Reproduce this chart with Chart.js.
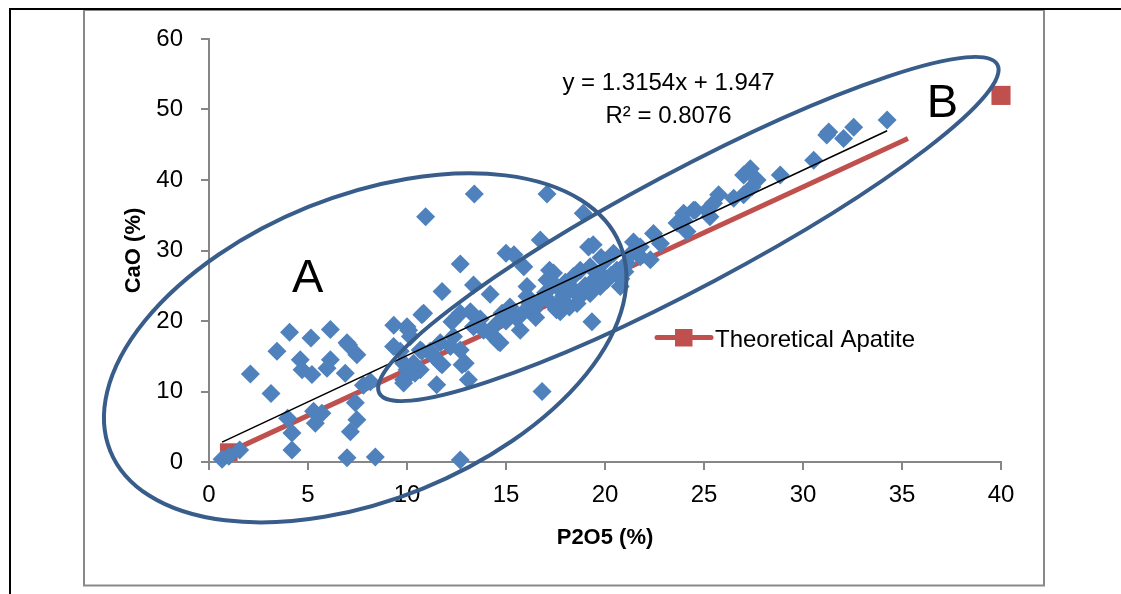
<!DOCTYPE html>
<html><head><meta charset="utf-8">
<script src="https://cdn.jsdelivr.net/npm/chart.js@4.4.1/dist/chart.umd.min.js"></script>
<style>html,body{margin:0;padding:0;background:#fff;overflow:hidden}#wrap{position:relative;width:1121px;height:594px}</style>
</head><body><div id="wrap"><canvas id="c" width="1121" height="594"></canvas></div>
<script>
// ---- data ----
const sampleX = [0.66,1.0,1.55,2.09,3.13,3.43,4.07,4.19,4.19,3.97,4.61,4.7,5.15,5.2,5.28,5.37,5.7,6.13,6.13,5.96,6.97,7.47,6.88,7.39,7.47,7.14,6.97,7.8,8.4,8.15,7.05,
 9.33,10.08,10.75,9.66,10.0,10.33,9.83,10.4,13.4,17.07,10.94,12.69,15.0,15.4,15.9,16.73,17.2,11.77,13.36,14.2,16.06,17.07,10.84,10.0,12.69,13.2,14.8,15.2,16.06,16.4,17.3,12.27,10.17,12.35,13.36,13.87,14.37,15.72,14.7,9.32,11.17,10.67,11.68,12.19,12.69,11.68,11.34,9.83,10.33,10.0,9.83,10.67,12.94,13.1,11.5,16.82,10.75,11.77,12.78,12.69,14.6,17.74,17.4,17.55,
 18.9,19.17,19.4,18.75,18.4,19.25,19.76,20.43,20.6,20.77,17.57,17.9,18.75,19.25,19.76,20.1,18.59,18.25,19.34,21.44,21.78,22.45,22.8,21.78,22.29,23.64,23.97,24.47,24.14,21.1,
 34.25,32.56,31.3,31.2,32.05,30.54,28.85,27.34,27.0,27.68,27.42,27.0,26.5,25.74,25.48,25.15,24.56,23.97,25.3,
 15.5,16.2,16.8,17.0,18.0,18.5,19.0,19.5,20.3,20.8,21.0,21.3,20.0,19.8,18.2,17.8,15.0,14.5,13.7,16.5,15.8];
const sampleY = [0.4,0.8,1.7,12.5,9.7,15.7,18.4,4.1,1.7,6.2,14.5,13.1,17.6,12.4,7.2,5.5,6.9,18.8,14.5,13.3,16.9,15.2,12.6,8.4,6.0,4.3,0.6,10.9,0.7,11.4,16.6,
 19.4,18.7,20.9,15.7,13.1,14.0,11.65,12.6,38.0,38.0,34.8,28.1,29.6,29.4,27.7,31.5,27.2,24.2,25.1,23.8,24.9,25.8,21.1,19.2,21.1,21.3,21.1,22.0,23.5,21.6,22.5,19.9,17.8,17.8,19.2,18.7,17.8,18.7,16.9,16.4,15.7,15.9,16.9,16.4,15.9,14.0,15.0,14.0,13.1,12.1,11.2,13.1,14.0,11.65,10.95,10.0,15.7,13.8,13.8,0.3,17.1,21.3,26.8,21.6,
 35.3,30.5,30.8,27.2,26.3,27.7,26.8,29.6,27.2,24.9,24.9,23.5,23.5,23.9,24.9,25.8,22.5,24.9,19.9,31.2,30.5,32.4,31.0,29.1,28.7,33.9,35.3,35.7,32.7,28.2,
 48.5,47.5,46.8,46.4,45.9,42.8,40.7,41.6,40.7,40.0,39.0,37.9,37.4,37.9,36.7,35.7,35.7,34.3,34.8,
 20.5,22.5,23.0,24.0,25.5,24.0,25.0,26.0,26.5,26.0,27.0,29.5,28.5,29.0,22.0,22.8,20.0,19.5,20.3,20.5,21.0];
const trendX = [0.66, 34.25];
const trendY = [2.81, 46.99];
const apatiteLineX = [1.0, 35.3];
const apatiteLineY = [1.4, 45.9];
const apatitePointX = [40];
const apatitePointY = [52];
const xTicks = [0,5,10,15,20,25,30,35,40];
const yTicks = [0,10,20,30,40,50,60];
const equationLines = ['y = 1.3154x + 1.947', 'R\u00B2 = 0.8076'];
const legendLabel = 'Theoretical Apatite';
const xTitle = 'P2O5 (%)';
const yTitle = 'CaO (%)';
const groupLabels = ['A', 'B'];

// ---- annotation layout (not data) ----
const FAMILY = '"Liberation Sans", Arial, sans-serif';
const ellipses = [
  {cx: 7.89, cy: 16.19, rx: 275, ry: 152, rot: -22},
  {cx: 24.21, cy: 33.05, rx: 350, ry: 58, rot: -28}
];
const groupPos = [{x: 4.98, baseY: 292}, {x: 37.04, baseY: 117}];

const toPts = (xs, ys) => xs.map((x, i) => ({x: x, y: ys[i]}));

const framePlugin = {
  id: 'frame',
  beforeDraw(chart) {
    const c = chart.ctx;
    c.save();
    c.fillStyle = '#fff';
    c.fillRect(0, 0, chart.width, chart.height);
    c.strokeStyle = '#898989';
    c.lineWidth = 2;
    c.strokeRect(84, 10, 960, 575.5);
    c.strokeStyle = '#000';
    c.lineWidth = 2;
    c.beginPath();
    c.moveTo(9, 9); c.lineTo(chart.width, 9);
    c.moveTo(10, 8); c.lineTo(10, chart.height);
    c.stroke();
    c.restore();
  }
};

const notesPlugin = {
  id: 'notes',
  afterDatasetsDraw(chart) {
    const c = chart.ctx, xs = chart.scales.x, ys = chart.scales.y;
    c.save();
    c.strokeStyle = '#385D8A';
    c.lineWidth = 4;
    ellipses.forEach(e => {
      c.beginPath();
      c.ellipse(xs.getPixelForValue(e.cx), ys.getPixelForValue(e.cy), e.rx, e.ry, e.rot * Math.PI / 180, 0, 2 * Math.PI);
      c.stroke();
    });
    c.fillStyle = '#000';
    c.textAlign = 'center';
    c.textBaseline = 'alphabetic';
    c.font = '47px ' + FAMILY;
    groupLabels.forEach((t, i) => c.fillText(t, xs.getPixelForValue(groupPos[i].x), groupPos[i].baseY));
    c.font = '24px ' + FAMILY;
    c.fillText(equationLines[0], 668.5, 90);
    c.fillText(equationLines[1], 668.5, 122.5);
    // legend
    c.strokeStyle = '#C0504D';
    c.lineWidth = 5;
    c.lineCap = 'round';
    c.beginPath(); c.moveTo(657, 337.5); c.lineTo(711, 337.5); c.stroke();
    c.fillStyle = '#C0504D';
    c.fillRect(675, 329, 17.5, 17.5);
    c.fillStyle = '#000';
    c.textAlign = 'left';
    c.fillText(legendLabel, 715, 346.5);
    c.restore();
  }
};

const tickFont = {family: FAMILY, size: 24};
const titleFont = {family: FAMILY, size: 22, weight: 'bold'};

new Chart(document.getElementById('c'), {
  type: 'scatter',
  data: {
    datasets: [
      {label: 'Linear trend', data: toPts(trendX, trendY), showLine: true, borderColor: '#000', borderWidth: 1.5, pointRadius: 0, order: 0, clip: false},
      {label: 'Samples', data: toPts(sampleX, sampleY), pointStyle: 'rectRot', pointRadius: 9.5, pointBackgroundColor: '#4F81BD', pointBorderWidth: 0, backgroundColor: '#4F81BD', order: 1, clip: false},
      {label: legendLabel, data: toPts(apatiteLineX, apatiteLineY), showLine: true, borderColor: '#C0504D', borderWidth: 5, borderCapStyle: 'butt', pointStyle: 'rect', pointRadius: [12.5, 0], pointBackgroundColor: '#C0504D', pointBorderWidth: 0, order: 2, clip: false},
      {label: legendLabel + ' (end)', data: toPts(apatitePointX, apatitePointY), pointStyle: 'rect', pointRadius: 13.5, pointBackgroundColor: '#C0504D', pointBorderWidth: 0, order: 2, clip: false}
    ]
  },
  options: {
    responsive: false, animation: false, devicePixelRatio: 1, events: [],
    layout: {padding: {left: 84, right: 120, top: 39, bottom: 0}},
    plugins: {legend: {display: false}, tooltip: {enabled: false}},
    scales: {
      x: {
        type: 'linear', min: 0, max: 40,
        afterBuildTicks: s => { s.ticks = xTicks.map(v => ({value: v})); },
        ticks: {font: tickFont, color: '#000', padding: 11, maxRotation: 0},
        grid: {drawOnChartArea: false, color: '#868686', lineWidth: 2, tickLength: 8},
        border: {color: '#868686', width: 2},
        title: {display: true, text: xTitle, font: titleFont, color: '#000', padding: {top: 0, bottom: 43}},
        afterFit: s => { s.height = 132; }
      },
      y: {
        type: 'linear', min: 0, max: 60,
        afterBuildTicks: s => { s.ticks = yTicks.map(v => ({value: v})); },
        ticks: {font: tickFont, color: '#000', padding: 18},
        grid: {drawOnChartArea: false, color: '#868686', lineWidth: 2, tickLength: 8},
        border: {color: '#868686', width: 2},
        title: {display: true, text: yTitle, font: titleFont, color: '#000', padding: {top: 37, bottom: 0}},
        afterFit: s => { s.width = 125; }
      }
    }
  },
  plugins: [framePlugin, notesPlugin]
});
</script>
</body></html>
